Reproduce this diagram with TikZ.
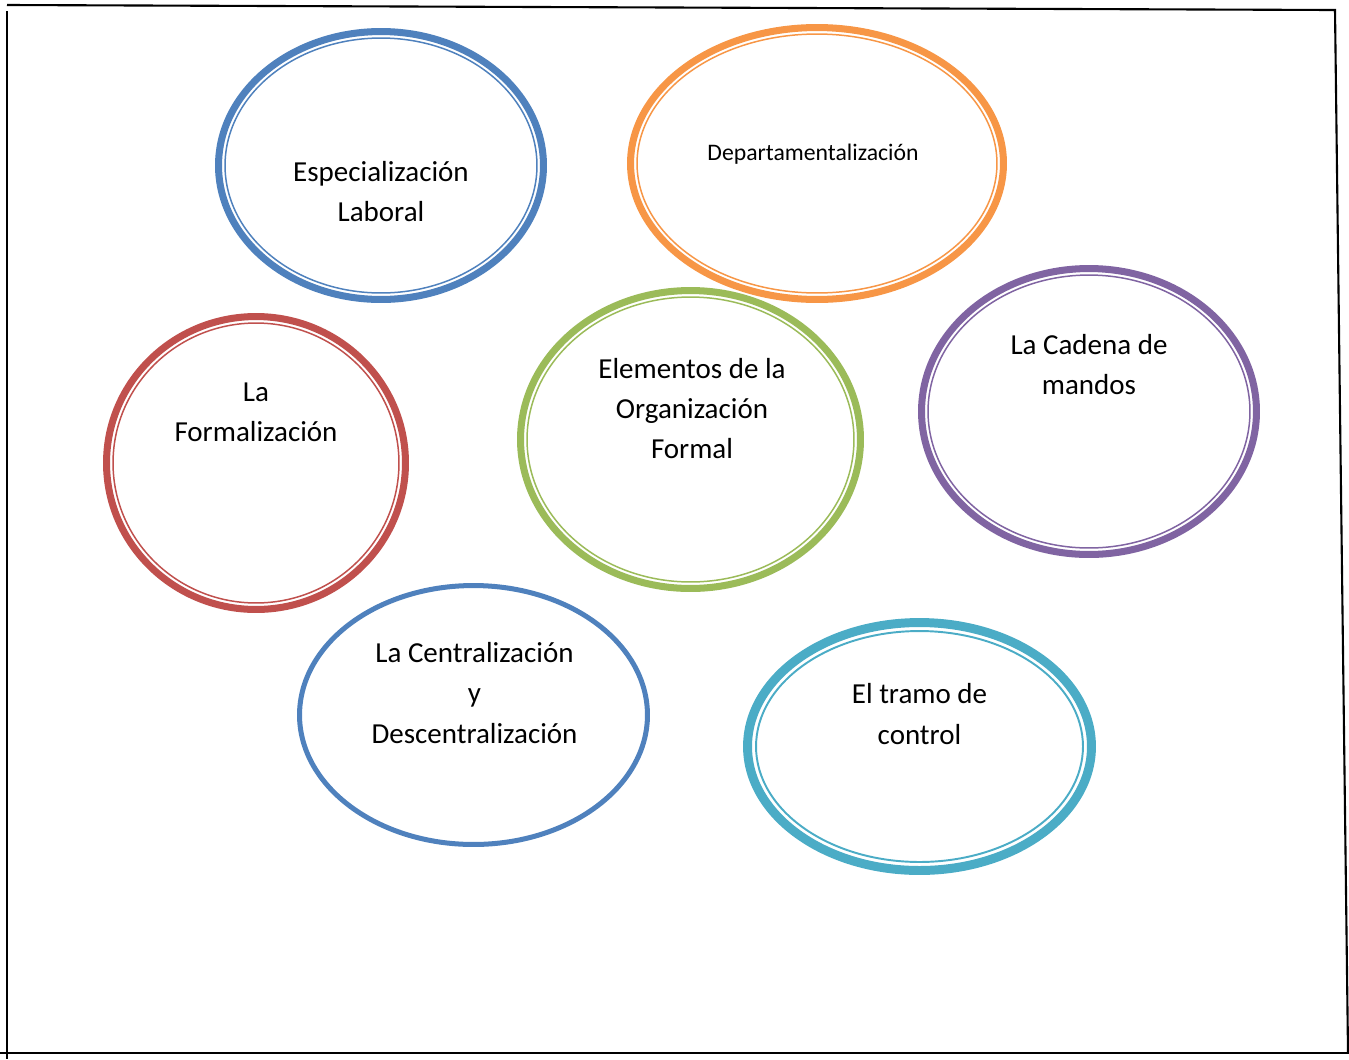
\documentclass[tikz,border=0pt]{standalone}
\usepackage{fontspec}
\setmainfont{Carlito}
\usetikzlibrary{shapes.geometric}
\definecolor{ofBlue}{HTML}{4F81BD}
\definecolor{ofOrange}{HTML}{F79646}
\definecolor{ofRed}{HTML}{C0504D}
\definecolor{ofGreen}{HTML}{9BBB59}
\definecolor{ofPurple}{HTML}{8064A2}
\definecolor{ofCyan}{HTML}{4BACC6}
\begin{document}
\begin{tikzpicture}[x=0.02cm, y=-0.02cm,
    ring/.style={ellipse, draw=#1, line width=4pt, inner sep=0pt},
    ringin/.style={draw=#1, line width=0.85pt},
    lbl/.style={align=center, font=\fontsize{16.5}{22.8}\selectfont}]
    \useasboundingbox (0,0) rectangle (1349,1059);

    % frame
    \draw[line width=1.2pt] (7,5) -- (1335,10) -- (1348,1052);
    \draw[line width=1.2pt] (7,11) -- (7,1059);
    \draw[line width=1.2pt] (0,1053) -- (1349,1053);

    \node[ring=ofBlue, minimum width=6.5cm, minimum height=5.36cm] (espec) at (381,165.5) {};
    \draw[ringin=ofBlue] (espec.center) ellipse [x radius=3.12cm, y radius=2.55cm];
    \node[lbl] (especT) at (381,192) {Especialización\\Laboral};

    \node[ring=ofOrange, minimum width=7.46cm, minimum height=5.44cm] (depto) at (817,163.5) {};
    \draw[ringin=ofOrange] (depto.center) ellipse [x radius=3.6cm, y radius=2.59cm];
    \node[lbl, font=\fontsize{13.5}{18}\selectfont] (deptoT) at (813,154) {Departamentalización};

    \node[ring=ofRed, minimum width=5.98cm, minimum height=5.86cm] (formal) at (256,463) {};
    \draw[ringin=ofRed] (formal.center) ellipse [x radius=2.86cm, y radius=2.8cm];
    \node[lbl] (formalT) at (256,412.5) {La\\Formalización};

    \node[ring=ofGreen, minimum width=6.8cm, minimum height=5.96cm] (elem) at (690.5,439.5) {};
    \draw[ringin=ofGreen] (elem.center) ellipse [x radius=3.27cm, y radius=2.85cm];
    \node[lbl] (elemT) at (692,408.5) {Elementos de la\\Organización\\Formal};

    \node[ring=ofPurple, minimum width=6.7cm, minimum height=5.72cm] (cadena) at (1089,411.5) {};
    \draw[ringin=ofPurple] (cadena.center) ellipse [x radius=3.22cm, y radius=2.73cm];
    \node[lbl] (cadenaT) at (1089,365) {La Cadena de\\mandos};

    \node[ring=ofBlue, line width=2.85pt, minimum width=6.96cm, minimum height=5.18cm] (central) at (473.5,715) {};
    \node[lbl] (centralT) at (474.5,693) {La Centralización\\y\\Descentralización};

    \node[ring=ofCyan, line width=5.1pt, minimum width=6.88cm, minimum height=4.96cm] (tramo) at (919.5,746.5) {};
    \draw[ringin=ofCyan, line width=1.1pt] (tramo.center) ellipse [x radius=3.27cm, y radius=2.31cm];
    \node[lbl] (tramoT) at (919.5,714) {El tramo de\\control};
\end{tikzpicture}
\end{document}
